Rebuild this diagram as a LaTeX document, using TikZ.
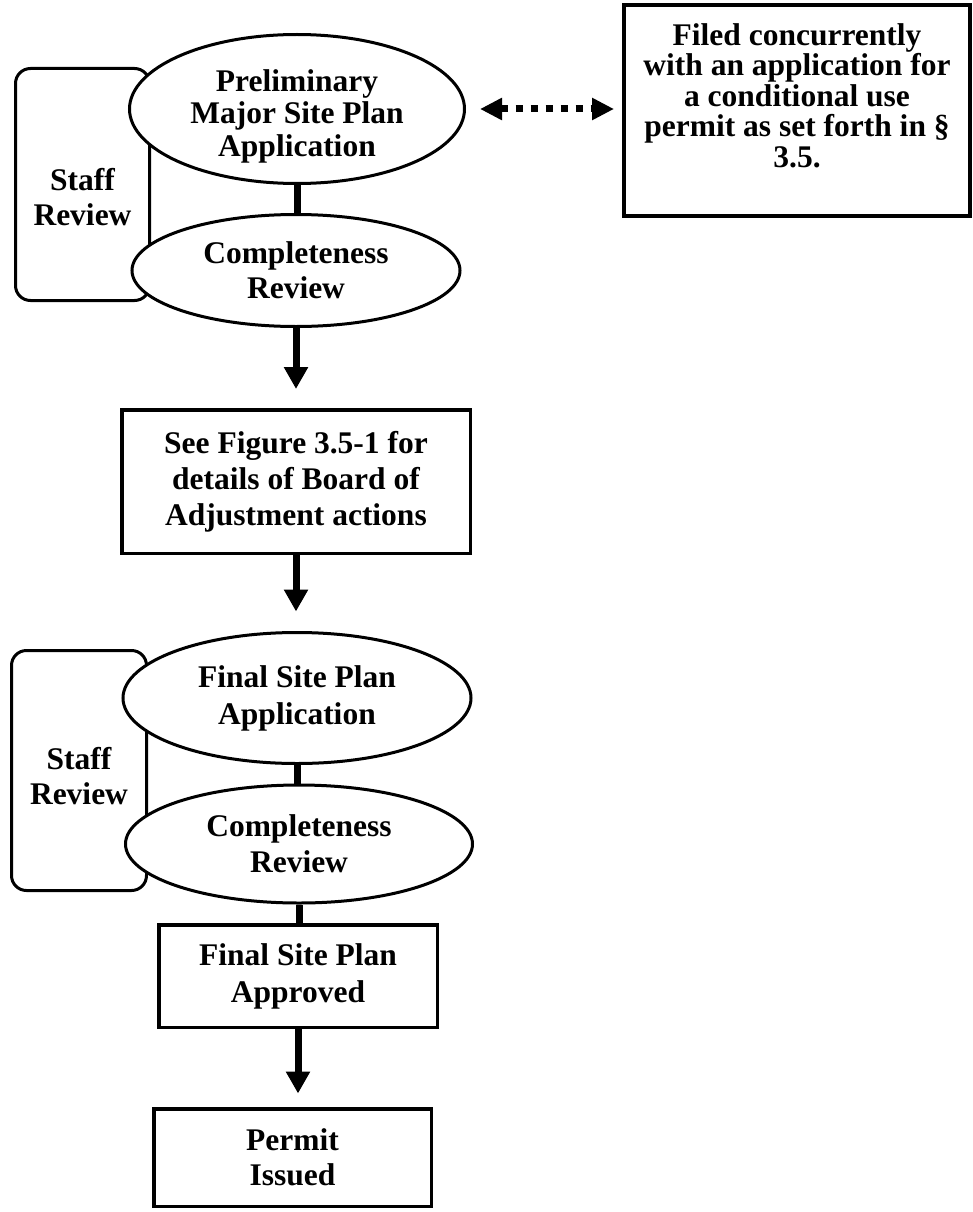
\documentclass[tikz,border=0pt]{standalone}
\usepackage{fontspec}
\setmainfont{Liberation Serif}
\usetikzlibrary{shapes.geometric, arrows.meta}

\begin{document}
\begin{tikzpicture}[x=1pt, y=-1pt,
    txt/.style={font=\fontsize{31.5}{#1}\selectfont\bfseries, align=center, inner sep=0pt},
    txt/.default=35,
    oval/.style={ellipse, draw=black, line width=3pt, fill=white, inner sep=0pt},
    staffbox/.style={rectangle, rounded corners=15pt, draw=black, line width=3pt},
    stepbox/.style={rectangle, draw=black, line width=3.5pt, fill=white, inner sep=0pt},
    link/.style={draw=black, line width=7pt},
    flow/.style={draw=black, line width=7pt, -{Triangle[width=23pt, length=22pt]}},
    dotflow/.style={draw=black, line width=7pt, dash pattern=on 7pt off 8pt,
        {Triangle[width=21pt, length=22pt]}-{Triangle[width=21pt, length=22pt]}}
]
\useasboundingbox (0,0) rectangle (972,1212);

% staff review frames, the ovals are laid over them
\node[staffbox, minimum width=134pt, minimum height=232pt] (staffA) at (82.5,184.5) {};
\node[txt] (staffAtxt) at ([yshift=-13pt]staffA.center) {Staff\\Review};
\node[staffbox, minimum width=135pt, minimum height=240pt] (staffB) at (79,770.5) {};
\node[txt] (staffBtxt) at ([yshift=-6pt]staffB.center) {Staff\\Review};

% preliminary stage
\node[oval, minimum width=335pt, minimum height=149pt] (prelim) at (297,109) {};
\node[txt=32.5] (prelimtxt) at ([yshift=-7pt]prelim.center) {Preliminary\\Major Site Plan\\Application};
\node[oval, minimum width=328pt, minimum height=112pt, txt] (complA) at (296,270.5) {Completeness\\Review};
\node[stepbox, line width=4pt, minimum width=346pt, minimum height=211pt] (filed) at (797,110.5) {};
\node[txt=30.5] (filedtxt) at ([yshift=15pt]filed.center) {Filed concurrently\\with an application for\\a conditional use\\permit as set forth in §\\3.5.};
\node[stepbox, minimum width=348.5pt, minimum height=143.5pt, txt=36] (seefig) at (296,481.5) {See Figure 3.5-1 for\\details of Board of\\Adjustment actions};

% final stage
\node[oval, minimum width=348pt, minimum height=131pt, txt=37] (finalapp) at (297,698) {Final Site Plan\\Application};
\node[oval, minimum width=347pt, minimum height=118pt, txt=36] (complB) at (299,844) {Completeness\\Review};
\node[stepbox, minimum width=278.5pt, minimum height=102.5pt, txt=37] (approved) at (298,976) {Final Site Plan\\Approved};
\node[stepbox, minimum width=277.5pt, minimum height=97.5pt, txt] (permit) at (292.5,1157.5) {Permit\\Issued};

% connectors
\draw[dotflow, shorten <=14pt, shorten >=8pt] (prelim.east) -- (prelim.east -| filed.west);
\draw[link] (prelim.south) -- (prelim.south |- complA.north);
\draw[flow, shorten >=19pt] (complA.south) -- (complA.south |- seefig.north);
\draw[flow, shorten >=19.5pt] (seefig.south) -- (seefig.south |- finalapp.north);
\draw[link] (finalapp.south) -- (finalapp.south |- complB.north);
\draw[link] (complB.south) -- (complB.south |- approved.north);
\draw[flow, shorten >=13.5pt] (approved.south) -- (approved.south |- permit.north);
\end{tikzpicture}
\end{document}
